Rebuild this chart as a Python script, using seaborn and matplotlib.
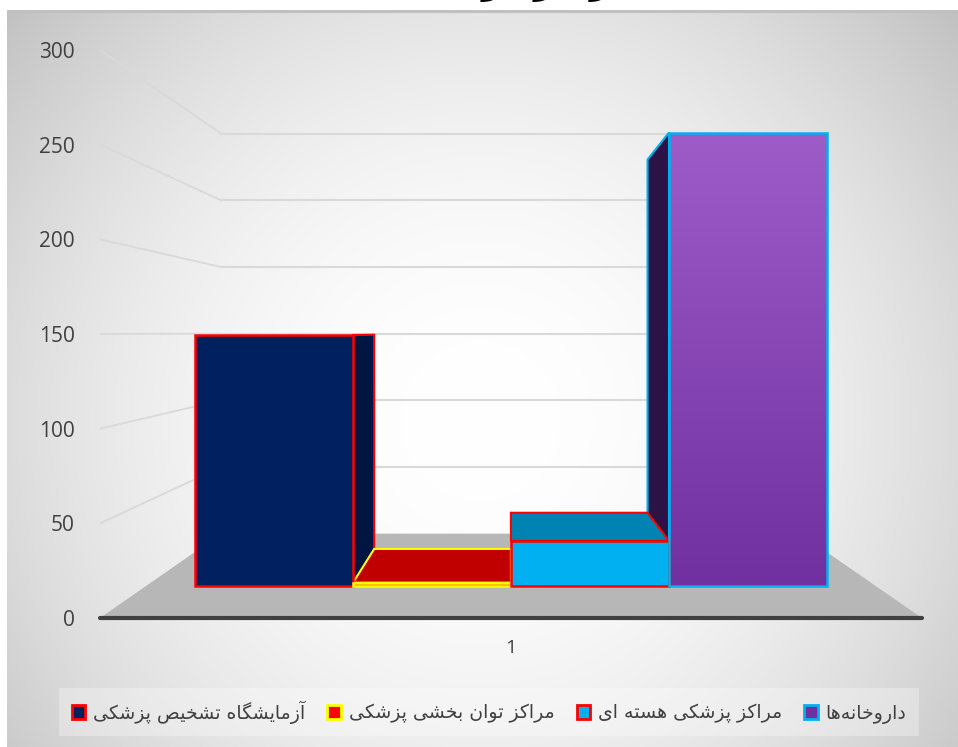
import numpy as np
import pandas as pd
import matplotlib
matplotlib.use("Agg")
from matplotlib import pyplot as plt
from matplotlib.patches import Patch, Polygon
from matplotlib.colors import to_rgb
import seaborn as sns

# data
series = ["آزمایشگاه تشخیص پزشکی", "مراکز توان بخشی پزشکی", "مراکز پزشکی هسته ای", "داروخانه‌ها"]
values = [150, 2, 27, 271]
category = ["1"]
y_ticks = [0, 50, 100, 150, 200, 250, 300]
title_text = "مراکز درمانی"

# colours
fills = ["#002060", "#ff0000", "#00b0f0", "#7030a0"]
edges = ["#ff0000", "#ffff00", "#ff0000", "#00b0f0"]
tops = ["#002060", "#c00000", "#0083b3", "#5a2680"]
sides = ["#001540", "#800000", "#007aa8", "#2d1245"]

W, H = 958, 747
VP = (510, 333)      # vanishing point, pixels from top left
WALL_T = 0.296       # depth of floor
BAR_T = 0.135        # depth of bars

# arabic letters -> isolated, final, initial, medial
FORMS = {
    "آ": "\uFE81\uFE82", "ا": "\uFE8D\uFE8E", "د": "\uFEA9\uFEAA", "ر": "\uFEAD\uFEAE",
    "ز": "\uFEAF\uFEB0", "و": "\uFEED\uFEEE",
    "ب": "\uFE8F\uFE90\uFE91\uFE92", "پ": "\uFB56\uFB57\uFB58\uFB59",
    "ت": "\uFE95\uFE96\uFE97\uFE98", "خ": "\uFEA5\uFEA6\uFEA7\uFEA8",
    "س": "\uFEB1\uFEB2\uFEB3\uFEB4", "ش": "\uFEB5\uFEB6\uFEB7\uFEB8",
    "ص": "\uFEB9\uFEBA\uFEBB\uFEBC", "ک": "\uFB8E\uFB8F\uFB90\uFB91",
    "گ": "\uFB92\uFB93\uFB94\uFB95", "م": "\uFEE1\uFEE2\uFEE3\uFEE4",
    "ن": "\uFEE5\uFEE6\uFEE7\uFEE8", "ه": "\uFEE9\uFEEA\uFEEB\uFEEC",
    "ی": "\uFBFC\uFBFD\uFBFE\uFBFF",
}


def shape(text):
    # matplotlib does no arabic shaping, so pick the joined forms and reverse
    out = []
    for i, c in enumerate(text):
        if c not in FORMS:
            if c != "\u200c":
                out.append(c)
            continue
        prev = text[i - 1] if i > 0 else " "
        nxt = text[i + 1] if i + 1 < len(text) else " "
        f = FORMS[c]
        joined_before = prev in FORMS and len(FORMS[prev]) == 4
        joined_after = nxt in FORMS and len(f) == 4
        if joined_before and joined_after:
            out.append(f[3])
        elif joined_after:
            out.append(f[2])
        elif joined_before:
            out.append(f[1])
        else:
            out.append(f[0])
    return "".join(reversed(out))


def px_axes(fig, left, top, right, bottom, **kw):
    return fig.add_axes([left / W, 1 - bottom / H, (right - left) / W, (bottom - top) / H], **kw)


def depth(ax, x, y, t):
    # pushes a data point towards the vanishing point, back in data coordinates
    d = ax.transData.transform((x, y))
    vp = (VP[0], H - VP[1])
    p = (d[0] + (vp[0] - d[0]) * t, d[1] + (vp[1] - d[1]) * t)
    return ax.transData.inverted().transform(p)


sns.set_style("white")
plt.rcParams["font.family"] = ["Open Sans", "DejaVu Sans"]

fig = plt.figure(figsize=(W / 100, H / 100), dpi=100)
fig.patch.set_facecolor("white")

# radial background
bg = px_axes(fig, 7, 10, W, H)
bg.set_axis_off()
yy, xx = np.mgrid[10:H, 7:W]
r = np.hypot(xx - 480, yy - 420) / 627
shade = np.clip(255 - 62 * r ** 2, 0, 255) / 255
bg.imshow(np.dstack([shade] * 3), aspect="auto")
bg.axhline(0, color="#c0c0c0", lw=3)

fig.text(515 / W, 1 - 2 / H, shape(title_text), family="DejaVu Sans", weight="bold", fontsize=26,
         ha="center", va="bottom", color="black")

# front axis, carries ticks, floor and walls
ax = px_axes(fig, 100, 50, 922, 618)
ax.patch.set_alpha(0)
ax.set_xlim((100 - 511) / 790, (922 - 511) / 790)
ax.set_ylim(0, 300)
ax.set_yticks(y_ticks)
ax.set_xticks([0])
ax.set_xticklabels(category)
ax.tick_params(axis="y", length=0, pad=18, labelsize=15, labelcolor="#404040")
ax.tick_params(axis="x", length=0, pad=15, labelsize=14, labelcolor="#404040")
sns.despine(ax=ax, left=True)
ax.spines["bottom"].set_linewidth(3)
ax.spines["bottom"].set_color("#404040")
ax.spines["bottom"].set_capstyle("round")

x0, x1 = ax.get_xlim()
floor = [(x0, 0), (x1, 0), depth(ax, x1, 0, WALL_T), depth(ax, x0, 0, WALL_T)]
ax.add_patch(Polygon(floor, facecolor="#b7b7b7", edgecolor="none", zorder=0.5))
for v in y_ticks[1:]:
    back_l = depth(ax, x0, v, WALL_T)
    back_r = depth(ax, x1, v, WALL_T)
    ax.plot([x0, back_l[0]], [v, back_l[1]], color="#d9d9d9", lw=1.3, zorder=0.6)
    ax.plot([back_l[0], back_r[0]], [back_l[1], back_r[1]], color="#d9d9d9", lw=1.5, zorder=0.6)

# bars, on the plane where the front faces sit
df = pd.DataFrame({"cat": category * len(series), "series": series, "value": values})
bar_ax = px_axes(fig, 116, 84, 906, 586)
bar_ax.patch.set_alpha(0)
sns.barplot(data=df, x="cat", y="value", hue="series", hue_order=series, palette=fills, saturation=1,
            width=0.8, gap=0, dodge=True, legend=False, ax=bar_ax)
bar_ax.set_xlim(-0.5, 0.5)
bar_ax.set_ylim(0, 300)
bar_ax.set_axis_off()

bars = [c[0] for c in bar_ax.containers]
for bar, edge in zip(bars, edges):
    bar.set_edgecolor(edge)
    bar.set_linewidth(1.8)
    bar.set_zorder(3)
    bar.set_clip_on(False)

vx = bar_ax.transData.inverted().transform((VP[0], H - VP[1]))[0]
# side faces first, tops over them, from the back of the drawing order
for i in [3, 0]:
    b = bars[i]
    l, w, h = b.get_x(), b.get_width(), b.get_height()
    ex = l + w if l + w < vx else l
    quad = [(ex, 0), (ex, h), depth(bar_ax, ex, h, BAR_T), depth(bar_ax, ex, 0, BAR_T)]
    bar_ax.add_patch(Polygon(quad, facecolor=sides[i], edgecolor=edges[i], lw=1.5, clip_on=False, zorder=1))
for i in [2, 1]:
    b = bars[i]
    l, w, h = b.get_x(), b.get_width(), b.get_height()
    quad = [(l, h), (l + w, h), depth(bar_ax, l + w, h, BAR_T), depth(bar_ax, l, h, BAR_T)]
    bar_ax.add_patch(Polygon(quad, facecolor=tops[i], edgecolor=edges[i], lw=1.5, clip_on=False, zorder=2))

# purple gradient on the last bar
b = bars[3]
grad = np.linspace(to_rgb("#9e5cc9"), to_rgb("#7030a0"), 256).reshape(256, 1, 3)
im = bar_ax.imshow(grad, extent=(b.get_x(), b.get_x() + b.get_width(), 0, b.get_height()), aspect="auto", zorder=2.5)
im.set_clip_path(b)
b.set_facecolor("none")
bar_ax.set_xlim(-0.5, 0.5)
bar_ax.set_ylim(0, 300)

handles = [Patch(facecolor=f, edgecolor=e, lw=2) for f, e in zip(fills, edges)]
leg = bar_ax.legend(handles, [shape(s) for s in series], ncol=4, loc="center",
                    bbox_to_anchor=(489 / W, 1 - 712 / H), bbox_transform=fig.transFigure,
                    frameon=True, framealpha=0.3, facecolor="white", edgecolor="none", fancybox=False,
                    handlelength=0.72, handleheight=0.8, handletextpad=0.4, columnspacing=1.18,
                    borderpad=0.65, borderaxespad=0, prop={"family": "DejaVu Sans", "size": 13.6},
                    labelcolor="#404040")

fig.savefig("out.png", dpi=100, facecolor="white")
